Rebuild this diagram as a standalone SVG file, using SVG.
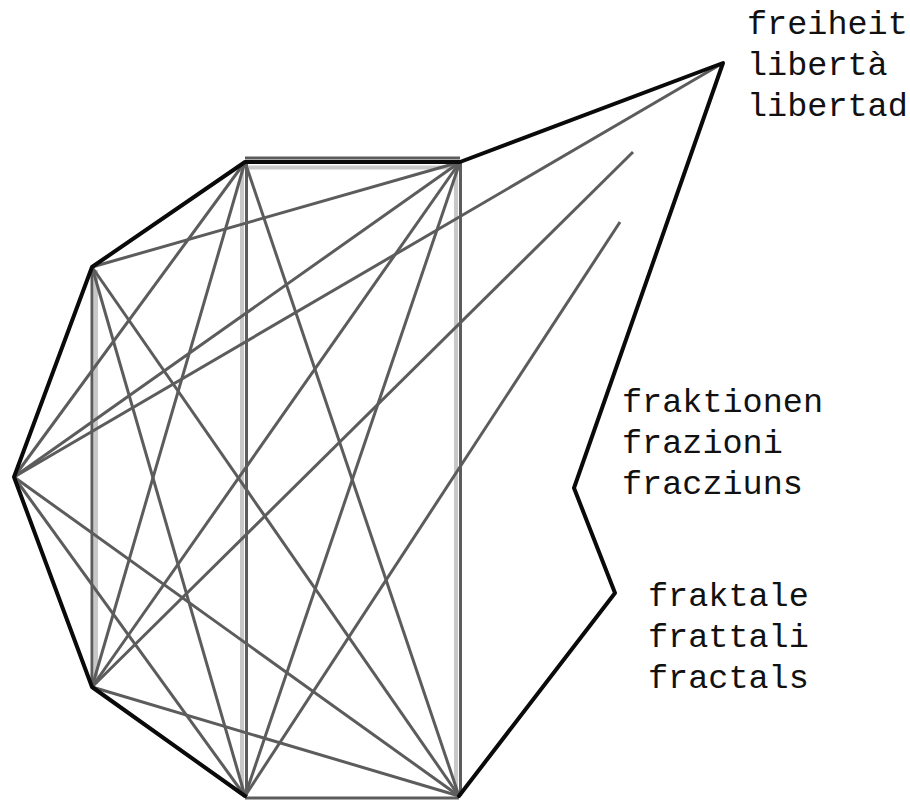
<svg xmlns="http://www.w3.org/2000/svg" width="910" height="801" viewBox="0 0 910 801">
  <style>
    .edge { stroke: #0a0a0a; stroke-width: 4; fill: none; stroke-linecap: round; stroke-linejoin: round; }
    .chord { stroke: #5c5c5c; stroke-width: 3; fill: none; stroke-linecap: butt; }
    .light { stroke: #c8c8c8; stroke-width: 4; fill: none; }
    .lbl { font-family: "Liberation Mono", "DejaVu Sans Mono", monospace; font-size: 33.5px; fill: #111; }
  </style>
  <rect width="910" height="801" fill="#ffffff"/>
  <g id="connectors">
    <line class="light" x1="96" y1="270" x2="96" y2="684"/>
    <line class="light" x1="242" y1="166" x2="242" y2="792"/>
    <line class="light" x1="456" y1="166" x2="456" y2="792"/>
    <line class="light" x1="248" y1="167.5" x2="456" y2="167.5"/>
    <line class="chord" x1="92" y1="267" x2="92" y2="687"/>
    <line class="chord" x1="246.5" y1="162" x2="246.5" y2="796"/>
    <line class="chord" x1="460.5" y1="162" x2="460.5" y2="796"/>
    <line class="chord" x1="245" y1="798" x2="459" y2="798"/>
    <line class="chord" x1="245" y1="158" x2="460" y2="158"/>
    <line class="chord" x1="245" y1="162" x2="459" y2="796"/>
    <line class="chord" x1="245" y1="162" x2="92" y2="687"/>
    <line class="chord" x1="245" y1="162" x2="14" y2="477"/>
    <line class="chord" x1="460" y1="162" x2="245" y2="796"/>
    <line class="chord" x1="460" y1="162" x2="92" y2="687"/>
    <line class="chord" x1="460" y1="162" x2="14" y2="477"/>
    <line class="chord" x1="460" y1="162" x2="92" y2="267"/>
    <line class="chord" x1="459" y1="796" x2="92" y2="687"/>
    <line class="chord" x1="459" y1="796" x2="14" y2="477"/>
    <line class="chord" x1="459" y1="796" x2="92" y2="267"/>
    <line class="chord" x1="245" y1="796" x2="14" y2="477"/>
    <line class="chord" x1="245" y1="796" x2="92" y2="267"/>
    <line class="chord" x1="14" y1="477" x2="723" y2="63"/>
    <line class="chord" x1="92" y1="687" x2="633" y2="152"/>
    <line class="chord" x1="245" y1="796" x2="620" y2="222"/>
    <polyline class="edge" points="245,796 92,687 14,477 92,267 245,162 460,162 723,63 574,488 615,593 459,796"/>
  </g>
  <g id="node-freiheit">
    <text class="lbl" x="747" y="34">freiheit</text>
    <text class="lbl" x="747" y="75">libertà</text>
    <text class="lbl" x="747" y="116">libertad</text>
  </g>
  <g id="node-fraktionen">
    <text class="lbl" x="622" y="412">fraktionen</text>
    <text class="lbl" x="622" y="453">frazioni</text>
    <text class="lbl" x="622" y="494">fracziuns</text>
  </g>
  <g id="node-fraktale">
    <text class="lbl" x="648" y="606">fraktale</text>
    <text class="lbl" x="648" y="647">frattali</text>
    <text class="lbl" x="648" y="688">fractals</text>
  </g>
</svg>
